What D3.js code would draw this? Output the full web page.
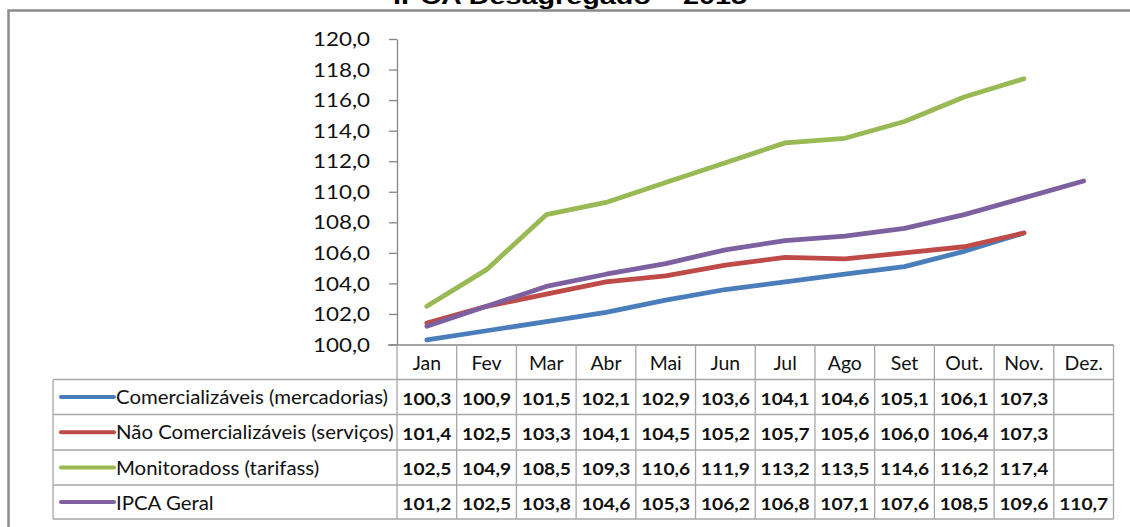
<!DOCTYPE html>
<html><head><meta charset="utf-8">
<script src="https://cdn.jsdelivr.net/npm/d3@7"></script>
<style>
html,body{margin:0;padding:0;background:#fff;}
svg{display:block;}
</style></head>
<body>
<svg id="c" width="1130" height="527"></svg>
<script>
const title = "IPCA Desagregado – 2015";
const months = ["Jan","Fev","Mar","Abr","Mai","Jun","Jul","Ago","Set","Out.","Nov.","Dez."];
const seriesNames = ["Comercializáveis (mercadorias)","Não Comercializáveis (serviços)","Monitoradoss (tarifass)","IPCA Geral"];
const comercializaveis = [100.3,100.9,101.5,102.1,102.9,103.6,104.1,104.6,105.1,106.1,107.3,null];
const naoComercializaveis = [101.4,102.5,103.3,104.1,104.5,105.2,105.7,105.6,106.0,106.4,107.3,null];
const monitorados = [102.5,104.9,108.5,109.3,110.6,111.9,113.2,113.5,114.6,116.2,117.4,null];
const ipcaGeral = [101.2,102.5,103.8,104.6,105.3,106.2,106.8,107.1,107.6,108.5,109.6,110.7];
const yTicks = [100,102,104,106,108,110,112,114,116,118,120];
const colors = ["#4a7ebb","#be4b48","#98b954","#7d60a0"];

const seriesValues = [comercializaveis, naoComercializaveis, monitorados, ipcaGeral];
const loc = d3.formatLocale({decimal:",", thousands:".", grouping:[3], currency:["R$",""]});
const fmt = loc.format(".1f");

const svg = d3.select("#c");
const FONT = "Lato, 'Open Sans', sans-serif";
const gridC = "#a6a6a6", axisC = "#868686";

// outer frame
svg.append("path").attr("d","M8.5,540 L8.5,10.5 L1140,10.5")
  .attr("fill","none").attr("stroke","#8a8a8a").attr("stroke-width",2.5);

// title
const t = svg.append("text").attr("x",570).attr("y",4).attr("text-anchor","middle")
  .attr("font-family","'Liberation Sans', Arial, sans-serif").attr("font-weight","bold")
  .attr("font-size",22).attr("fill","#000").text(title);
t.attr("textLength",354).attr("lengthAdjust","spacingAndGlyphs");

const x0 = 397, x1 = 1113.5;
const x = d3.scaleBand().domain(months).range([x0,x1]);
const y = d3.scaleLinear().domain([100,120]).range([344.5,39]);

// y axis
const yAxis = d3.axisLeft(y).tickValues(yTicks).tickSize(8).tickSizeOuter(0).tickPadding(19)
  .tickFormat(fmt);
const ga = svg.append("g").attr("transform",`translate(${x0},0)`).call(yAxis);
ga.select(".domain").attr("stroke",axisC).attr("stroke-width",1.3);
ga.selectAll(".tick line").attr("stroke",axisC).attr("stroke-width",1.3);
ga.selectAll(".tick text").attr("font-family",FONT).attr("font-size",18.5).attr("fill","#111")
  .attr("dy","0.36em");
ga.selectAll(".tick text").each(function(){
  d3.select(this).attr("textLength",57).attr("lengthAdjust","spacingAndGlyphs");
});

// table
const rowTops = [345,379.5,414.5,450,485,519];
const legX = 53;
const tg = svg.append("g");
tg.append("line").attr("x1",x0-9).attr("x2",x1).attr("y1",rowTops[0]).attr("y2",rowTops[0])
  .attr("stroke",axisC).attr("stroke-width",1.3);
for(let i=1;i<rowTops.length;i++){
  tg.append("line").attr("x1",legX).attr("x2",x1).attr("y1",rowTops[i]).attr("y2",rowTops[i])
    .attr("stroke",gridC).attr("stroke-width",1.3);
}
months.forEach(m=>{
  tg.append("line").attr("x1",x(m)).attr("x2",x(m)).attr("y1",rowTops[0]).attr("y2",rowTops[5])
    .attr("stroke",gridC).attr("stroke-width",1.3);
});
tg.append("line").attr("x1",x1).attr("x2",x1).attr("y1",rowTops[0]).attr("y2",rowTops[5])
  .attr("stroke",gridC).attr("stroke-width",1.3);
tg.append("line").attr("x1",legX).attr("x2",legX).attr("y1",rowTops[1]).attr("y2",rowTops[5])
  .attr("stroke",gridC).attr("stroke-width",1.3);

function stretch(sel,k){
  sel.each(function(){
    const w = this.getComputedTextLength();
    d3.select(this).attr("textLength",w*k).attr("lengthAdjust","spacingAndGlyphs");
  });
}
// month header
const mh = tg.selectAll("text.m").data(months).join("text").attr("class","m")
  .attr("x",d=>x(d)+x.bandwidth()/2).attr("y",rowTops[0]+25)
  .attr("text-anchor","middle").attr("font-family",FONT).attr("font-size",18.5).attr("fill","#111")
  .text(d=>d);
stretch(mh,1.05);

// values + legend
const legendTexts = [];
seriesValues.forEach((vals,si)=>{
  const tx = tg.selectAll("text.v"+si).data(vals.map((v,i)=>({v,m:months[i]})).filter(d=>d.v!=null))
    .join("text").attr("class","v"+si)
    .attr("x",d=>x(d.m)+x.bandwidth()/2).attr("y",rowTops[si+1]+25)
    .attr("text-anchor","middle").attr("font-family",FONT).attr("font-size",17.5)
    .attr("font-weight","bold").attr("fill","#111")
    .text(d=>fmt(d.v));
  tx.attr("textLength",49).attr("lengthAdjust","spacingAndGlyphs");
  const ym = (rowTops[si+1]+rowTops[si+2])/2;
  tg.append("line").attr("x1",61).attr("x2",114).attr("y1",ym).attr("y2",ym)
    .attr("stroke",colors[si]).attr("stroke-width",4).attr("stroke-linecap","round");
  const lt = tg.append("text").attr("x",116).attr("y",rowTops[si+1]+24.5)
    .attr("font-family",FONT).attr("font-size",19.5).attr("fill","#111").text(seriesNames[si]);
  legendTexts.push(lt.node());
});
(function(){
  const k = 272/legendTexts[0].getComputedTextLength();
  legendTexts.forEach(n=>{
    const w = n.getComputedTextLength();
    d3.select(n).attr("textLength",w*k).attr("lengthAdjust","spacingAndGlyphs");
  });
})();

// lines
const line = d3.line().defined(d=>d.v!=null)
  .x(d=>x(d.m)+x.bandwidth()/2).y(d=>y(d.v));
seriesValues.forEach((vals,si)=>{
  svg.append("path").datum(vals.map((v,i)=>({v,m:months[i]})))
    .attr("d",line).attr("fill","none").attr("stroke",colors[si])
    .attr("stroke-width",4.8).attr("stroke-linejoin","round").attr("stroke-linecap","round");
});
</script>
</body></html>
